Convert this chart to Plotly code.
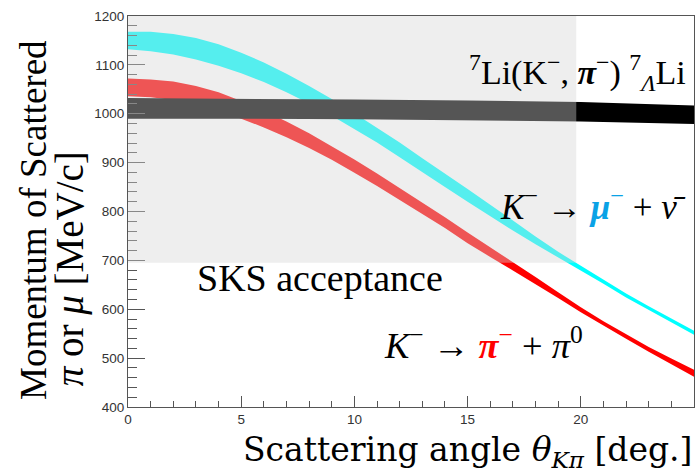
import plotly.graph_objects as go

# ---- data ----
angle = list(range(26))  # scattering angle [deg]
mu_center = [1150, 1148, 1142, 1133, 1120, 1104, 1085, 1063, 1039, 1013, 985, 956, 926,
             895, 864, 833, 802, 771, 741, 711, 684, 656, 628, 602, 577, 552]
mu_halfwidth = [18, 20, 21, 22, 22, 21, 20, 19, 18, 17, 16, 15, 15,
                14, 14, 13, 12, 10, 8, 6.5, 5, 4, 4, 4, 4, 4]
pi_center = [1054, 1052, 1047, 1038, 1025, 1008, 989, 968, 945, 920, 893, 865, 836,
             807, 777, 746, 717, 688, 659, 629, 599, 571, 544, 518, 493, 469]
pi_halfwidth = [18, 18, 19, 19, 19, 18, 17, 16, 15, 14, 13.5, 13, 12,
                12, 11, 11, 10, 8.5, 7, 6, 5, 4.5, 4.5, 5, 6, 7]
li_angle = [0, 5, 10, 15, 20, 25]
li_upper = [1032, 1031, 1029, 1027, 1024, 1017]
li_lower = [990, 990, 989, 987, 984, 979]

sks_x = [0, 19.8]
sks_y = [695, 1200]

x_ticks = [0, 5, 10, 15, 20, 25]
y_ticks = [400, 500, 600, 700, 800, 900, 1000, 1100, 1200]

SERIF = "Liberation Serif"
WIDE_SERIF = "DejaVu Serif"
SANS = "Liberation Sans"


def band(xs, lo, hi, color):
    return go.Scatter(
        x=list(xs) + list(xs)[::-1],
        y=list(hi) + list(lo)[::-1],
        fill="toself", fillcolor=color, mode="lines",
        line=dict(width=0, color=color), hoverinfo="skip", showlegend=False)


mu_hi = [c + h for c, h in zip(mu_center, mu_halfwidth)]
mu_lo = [c - h for c, h in zip(mu_center, mu_halfwidth)]
pi_hi = [c + h for c, h in zip(pi_center, pi_halfwidth)]
pi_lo = [c - h for c, h in zip(pi_center, pi_halfwidth)]

fig = go.Figure()
fig.add_trace(band(angle, mu_lo, mu_hi, "#00ffff"))
fig.add_trace(band(angle, pi_lo, pi_hi, "#ff0000"))
fig.add_trace(band(li_angle, li_lower, li_upper, "#000000"))

fig.add_shape(type="rect", xref="x", yref="y",
              x0=sks_x[0], x1=sks_x[1], y0=sks_y[0], y1=sks_y[1],
              fillcolor="rgba(212,212,212,0.4)", line=dict(width=0), layer="above")

axis_common = dict(showline=True, mirror=True, linecolor="#555555", linewidth=1.2,
                   ticks="inside", tickcolor="#555555", tickwidth=1,
                   showgrid=False, zeroline=False,
                   tickfont=dict(family=SANS, size=13.5, color="#333333"))

fig.update_xaxes(range=[0, 25], tickvals=x_ticks, ticklen=11,
                 minor=dict(ticks="inside", ticklen=6, dtick=1, tick0=0,
                            tickcolor="#555555", showgrid=False),
                 **axis_common)
fig.update_yaxes(range=[400, 1200], tickvals=y_ticks, ticklen=17,
                 minor=dict(ticks="inside", ticklen=9, dtick=20, tick0=400,
                            tickcolor="#555555", showgrid=False),
                 **axis_common)

ann = []
ann.append(dict(text="<sup>7</sup>Li(K<sup>−</sup>, <b><i>π</i></b><sup>−</sup>) <sup>7</sup><sub><i>Λ</i></sub>Li",
                xref="x", yref="y", x=24.75, y=1085, xanchor="right", yanchor="middle",
                showarrow=False, font=dict(family=SERIF, size=34, color="black")))
ann.append(dict(text="<i>K</i><sup>−</sup> → <span style='color:#0aa2e6'><b><i>μ</i></b><sup>−</sup></span> + <i>ν̄</i>",
                xref="x", yref="y", x=24.75, y=815, xanchor="right", yanchor="middle",
                showarrow=False, font=dict(family=SERIF, size=35, color="black")))
ann.append(dict(text="<i>K</i><sup>−</sup> → <span style='color:#ff0000'><b><i>π</i></b><sup>−</sup></span> + <i>π</i><sup>0</sup>",
                xref="x", yref="y", x=15.7, y=531, xanchor="center", yanchor="middle",
                showarrow=False, font=dict(family=SERIF, size=36.5, color="black")))
ann.append(dict(text="SKS acceptance",
                xref="x", yref="y", x=8.47, y=664, xanchor="center", yanchor="middle",
                showarrow=False, font=dict(family=SERIF, size=38, color="black")))
ann.append(dict(text="Scattering angle <i>θ</i><sub><i>Kπ</i></sub> [deg.]",
                xref="paper", yref="paper", x=1.0, y=-0.174, xanchor="right", yanchor="bottom",
                showarrow=False, font=dict(family=WIDE_SERIF, size=33, color="black")))
ann.append(dict(text="Momentum of Scattered",
                xref="paper", yref="paper", x=-0.168, y=0.478, xanchor="center", yanchor="middle",
                textangle=-90, showarrow=False, font=dict(family=SERIF, size=37, color="black")))
ann.append(dict(text="<i>π</i> or <i>μ</i> [MeV/c]",
                xref="paper", yref="paper", x=-0.1025, y=0.049, xanchor="center", yanchor="bottom",
                textangle=-90, showarrow=False, font=dict(family=SERIF, size=39, color="black")))

fig.update_layout(width=700, height=475, margin=dict(l=128, r=6, t=16, b=68),
                  paper_bgcolor="white", plot_bgcolor="white", annotations=ann)

fig.write_html("out.html")
